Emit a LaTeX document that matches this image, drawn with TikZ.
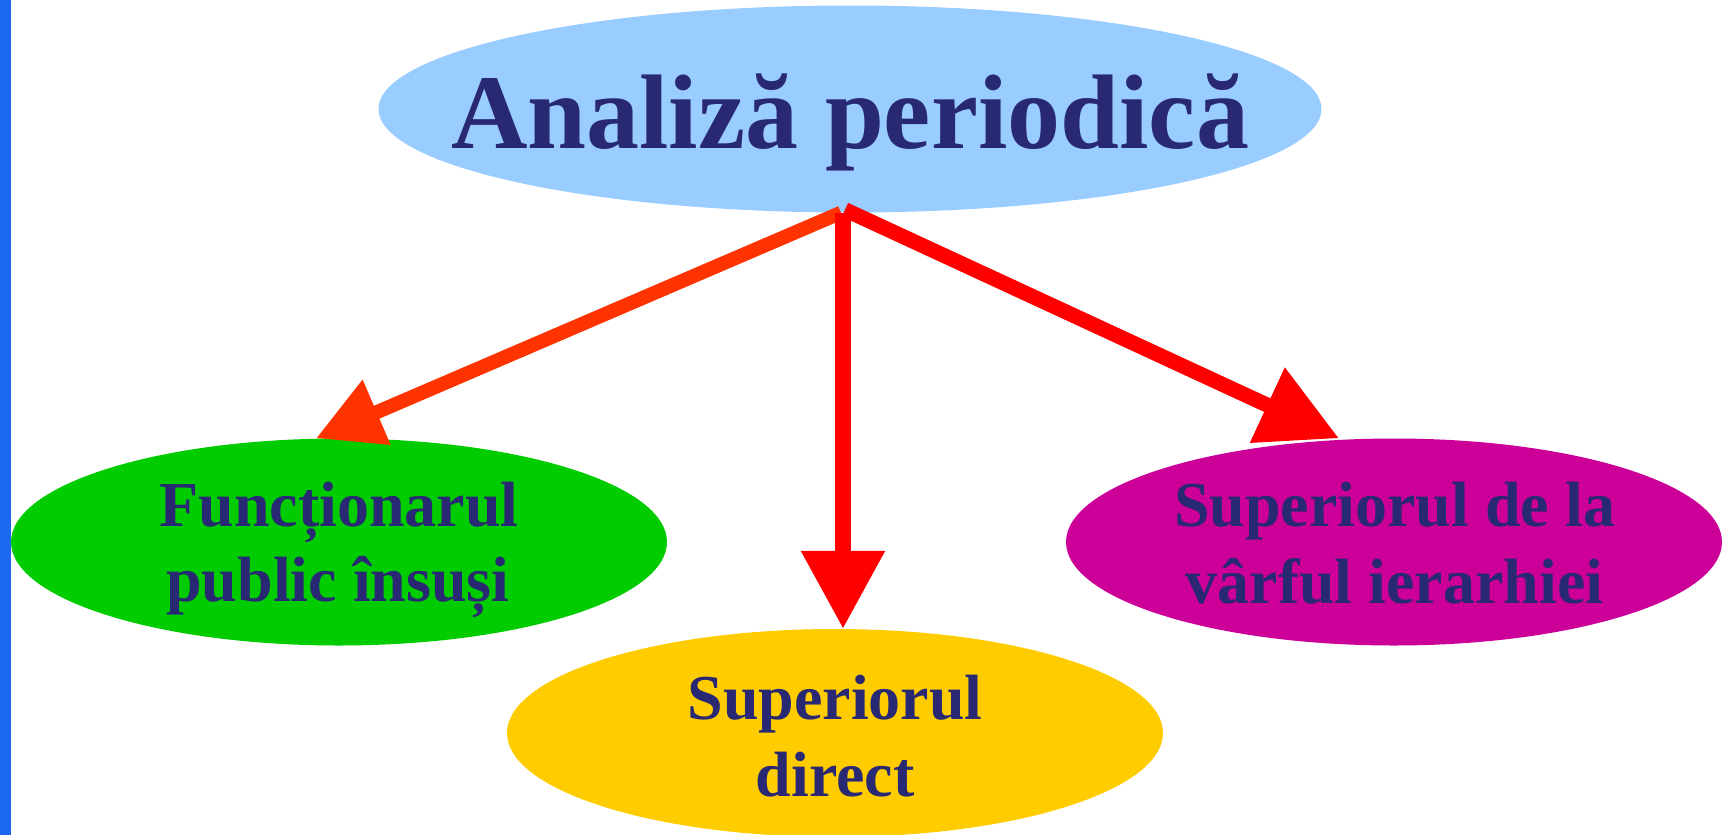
\documentclass[tikz,border=0pt]{standalone}
\usepackage{fontspec}
\setmainfont{Liberation Serif}
\usetikzlibrary{arrows.meta,shapes.geometric}
\definecolor{barblue}{RGB}{28,104,240}
\definecolor{topblue}{RGB}{153,204,255}
\definecolor{ovgreen}{RGB}{0,204,0}
\definecolor{ovmag}{RGB}{204,0,153}
\definecolor{ovyel}{RGB}{255,204,0}
\definecolor{navy}{RGB}{40,40,115}
\definecolor{orred}{RGB}{255,51,0}
\definecolor{pured}{RGB}{255,0,0}
\begin{document}
\begin{tikzpicture}[x=1pt,y=-1pt,
  oval/.style={ellipse, draw=none, inner sep=0pt, minimum width=656pt, minimum height=207pt},
  title/.style={anchor=base, inner sep=0pt, text=navy, font=\fontsize{106}{120}\selectfont\bfseries},
  sub/.style={anchor=base, inner sep=0pt, text=navy, font=\fontsize{64}{76}\selectfont\bfseries},
  arr/.style={line width=14.5pt}
]
\useasboundingbox (0,0) rectangle (1727,835);
\clip (0,0) rectangle (1727,835);
\fill[white] (0,0) rectangle (1727,835);
\fill[barblue] (0,0) rectangle (10.5,835);

\node[oval, fill=topblue, minimum width=943pt] (top) at (850,109) {};
\node[oval, fill=ovgreen] (green) at (339,542) {};
\node[oval, fill=ovmag] (mag) at (1394,542) {};
\node[oval, fill=ovyel, minimum height=208pt] (yel) at (835,733) {};

\node[title] (ttop) at (850,148) {Analiză periodică};
\node[sub] (tg1) at (339,526.7) {Funcționarul};
\node[sub] (tg2) at (338,601.7) {public însuși};
\node[sub] (tm1) at (1394.5,526.7) {Superiorul de la};
\node[sub] (tm2) at (1394.5,603) {vârful ierarhiei};
\node[sub] (ty1) at (835,719.3) {Superiorul};
\node[sub] (ty2) at (835,796) {direct};

\draw[arr, line width=14pt, draw=orred, -{Triangle[length=66pt,width=67pt]}]
  ([xshift=-9pt]top.south) -- ([xshift=-23pt]green.north);
\draw[arr, line width=15.5pt, draw=pured, -{Triangle[length=78pt,width=80pt]}]
  ([xshift=-7pt]top.south) -- ([xshift=8pt]yel.north);
\draw[arr, line width=15pt, draw=pured, -{Triangle[length=79pt,width=79pt]}]
  ([xshift=-5pt,yshift=3pt]top.south) -- ([xshift=-55pt]mag.north);
\end{tikzpicture}
\end{document}
